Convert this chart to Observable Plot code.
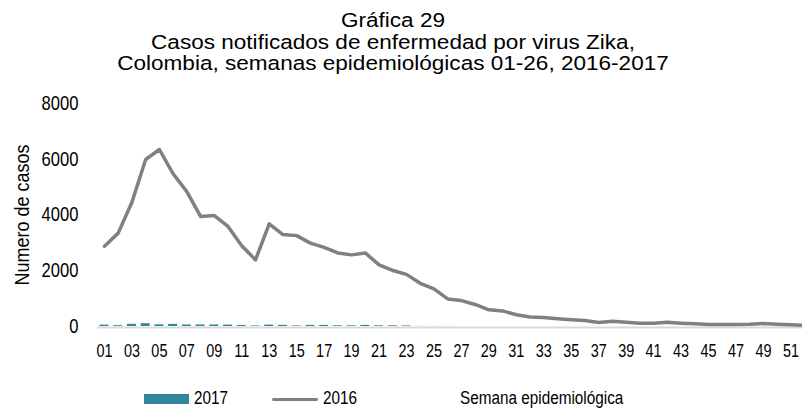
<!DOCTYPE html>
<html><head><meta charset="utf-8">
<script src="https://cdn.jsdelivr.net/npm/d3@7"></script>
<script src="https://cdn.jsdelivr.net/npm/@observablehq/plot@0.6"></script>
<style>
body{margin:0;background:#fff;font-family:"Liberation Sans",Arial,sans-serif;color:#000;}
#wrap{position:relative;width:802px;height:408px;overflow:hidden;}
#title{position:absolute;left:0;top:9px;width:786px;text-align:center;font-size:20.5px;line-height:21.5px;transform:scaleX(1.1);transform-origin:393px 0;}
#chart{position:absolute;left:0;top:72px;}
.lg{position:absolute;font-size:18px;line-height:18px;top:389px;transform:scaleX(0.85);transform-origin:0 0;white-space:nowrap;}
.sw{position:absolute;}
</style></head>
<body><div id="wrap">
<div id="title">Gráfica 29<br>Casos notificados de enfermedad por virus Zika,<br>Colombia, semanas epidemiológicas 01-26, 2016-2017</div>
<div id="chart"></div>
<div class="sw" style="left:144px;top:394px;width:45px;height:10px;background:#31859c"></div>
<div class="lg" style="left:194px">2017</div>
<div class="sw" style="left:272px;top:398px;width:46px;height:3px;background:#808080;border-radius:2px"></div>
<div class="lg" style="left:323px">2016</div>
<div class="lg" style="left:460px">Semana epidemiológica</div>
</div>
<script>
const weeks = [1,2,3,4,5,6,7,8,9,10,11,12,13,14,15,16,17,18,19,20,21,22,23,24,25,26,27,28,29,30,31,32,33,34,35,36,37,38,39,40,41,42,43,44,45,46,47,48,49,50,51,52];
const cases2016 = [2880,3350,4460,5990,6350,5480,4840,3950,3980,3590,2900,2390,3680,3300,3260,2990,2840,2640,2570,2640,2210,2010,1870,1550,1350,990,930,790,600,560,420,340,320,275,240,215,145,190,155,120,120,155,120,95,70,70,70,80,105,80,60,40];
const weeks2017 = [1,2,3,4,5,6,7,8,9,10,11,12,13,14,15,16,17,18,19,20,21,22,23,24,25,26];
const cases2017 = [50,30,80,100,60,75,55,55,55,50,35,20,50,40,20,40,40,25,25,40,25,25,20,5,3,2];
const xTicks = [1,3,5,7,9,11,13,15,17,19,21,23,25,27,29,31,33,35,37,39,41,43,45,47,49,51];
const yTicks = [0,2000,4000,6000,8000];

const data2016 = weeks.map((w,i)=>({week:w, value:cases2016[i]}));
const data2017 = weeks2017.map((w,i)=>({week:w, value:cases2017[i]}));
const font = '"Liberation Sans",Arial,sans-serif';

const chart = Plot.plot({
  width: 802, height: 300,
  marginTop: 31, marginBottom: 46, marginLeft: 97, marginRight: 0,
  style: {fontFamily: font, color: "#000", background: "transparent", overflow: "visible"},
  x: {type: "band", domain: weeks, range: [97.1, 811], paddingInner: 0.35, paddingOuter: 0.175, axis: null},
  y: {domain: [0, 8000], axis: null},
  marks: [
    Plot.ruleY([0], {stroke: "#d9d9d9", strokeWidth: 2, dy: 1}),
    Plot.barY(data2017, {x: "week", y: "value", fill: "#31859c"}),
    Plot.lineY(data2016, {x: "week", y: "value", stroke: "#808080", strokeWidth: 3.5, strokeLinejoin: "round"}),
    Plot.axisX({ticks: xTicks, tickFormat: d => String(d).padStart(2, "0"), tickSize: 0, tickPadding: 17, fontSize: 19, label: null}),
    Plot.axisY({ticks: yTicks, tickFormat: d => String(d), tickSize: 0, tickPadding: 19, fontSize: 20, label: "Numero de casos", labelAnchor: "center", labelOffset: 83, labelArrow: "none"})
  ]
});
document.getElementById("chart").appendChild(chart);

// condensed look of the original's narrow typeface (horizontal squeeze only)
function narrow(sel, s) {
  sel.each(function() {
    const t = d3.select(this);
    const xa = t.attr("x");
    const numeric = xa !== null && /^[-\d.e]+$/.test(xa);
    const x = numeric ? +xa : 0;
    if (numeric) t.attr("x", null);
    const tr = t.attr("transform") || "";
    let tx = 0, ty = 0, rest = tr;
    const m = /^\s*translate\(\s*([-\d.e]+)[,\s]*([-\d.e]+)?\s*\)(.*)$/.exec(tr);
    if (m) { tx = +m[1]; ty = +(m[2] || 0); rest = m[3] || ""; }
    t.attr("transform", `translate(${tx + x},${ty})${rest} scale(${s},1)`);
  });
}
const svg = d3.select(chart);
narrow(svg.selectAll('g[aria-label="x-axis tick label"] text'), 0.76);
narrow(svg.selectAll('g[aria-label="y-axis tick label"] text'), 0.83);
narrow(svg.selectAll('g[aria-label="y-axis label"] text'), 0.9);
</script>
</body></html>
